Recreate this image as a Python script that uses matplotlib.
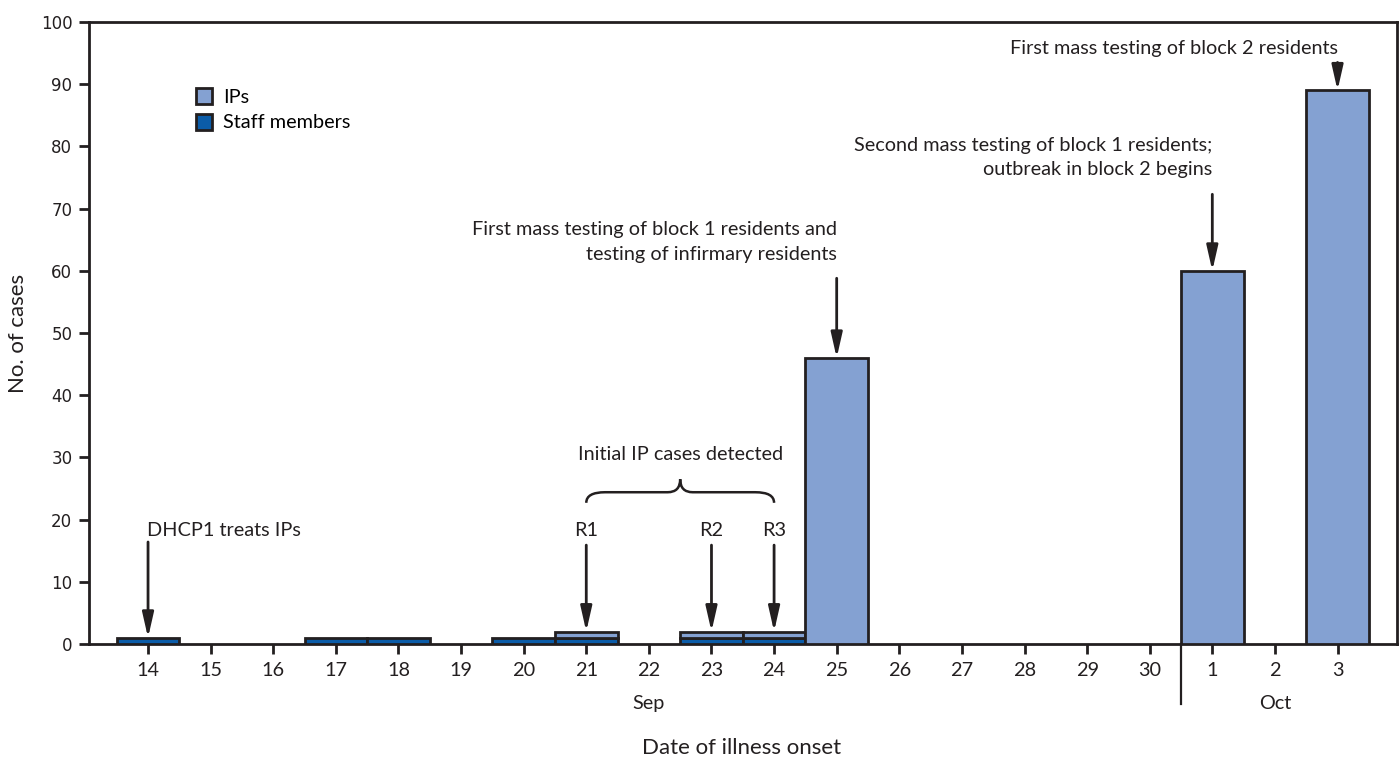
import matplotlib
matplotlib.use("Agg")
import matplotlib.pyplot as plt
import numpy as np
from matplotlib.path import Path
from matplotlib.patches import PathPatch, Patch

# ---------------- data ----------------
dates = ['14', '15', '16', '17', '18', '19', '20', '21', '22', '23', '24', '25',
         '26', '27', '28', '29', '30', '1', '2', '3']
staff = [1, 0, 0, 1, 1, 0, 1, 1, 0, 1, 1, 0, 0, 0, 0, 0, 0, 0, 0, 0]
ips = [0, 0, 0, 0, 0, 0, 0, 1, 0, 1, 1, 46, 0, 0, 0, 0, 0, 60, 0, 89]
yticks = [0, 10, 20, 30, 40, 50, 60, 70, 80, 90, 100]

# ---------------- style ----------------
INK = '#231f20'
C_IP = '#84a1d2'
C_STAFF = '#0b5ca8'
FONT = ['Lato', 'DejaVu Sans']
FS = 14.3
plt.rcParams['font.family'] = FONT

fig = plt.figure(figsize=(14, 7.59), dpi=100)
ax = fig.add_axes([89 / 1400, 115 / 759, 1308 / 1400, 622 / 759])

x = np.arange(len(dates))
staff_a = np.array(staff, dtype=float)
ips_a = np.array(ips, dtype=float)

m = staff_a > 0
ax.bar(x[m], staff_a[m], width=1.0, color=C_STAFF, edgecolor=INK, linewidth=2, zorder=3)
m = ips_a > 0
ax.bar(x[m], ips_a[m], bottom=staff_a[m], width=1.0, color=C_IP, edgecolor=INK,
       linewidth=2, zorder=3)

ax.set_xlim(-0.943, 19.95)
ax.set_ylim(0, 100)
ax.set_xticks(x)
ax.set_xticklabels(dates, fontsize=FS, color=INK)
ax.set_yticks(yticks)
ax.set_yticklabels([str(v) for v in yticks], fontsize=12, color=INK,
                   family=['DejaVu Sans'])
ax.tick_params(axis='x', length=7, width=2, color=INK, pad=6)
ax.tick_params(axis='y', length=7, width=2, color=INK, pad=5)
for s in ax.spines.values():
    s.set_linewidth(2)
    s.set_color(INK)

# month separators / labels
ax.plot([16.5, 16.5], [0, -9.64], color=INK, lw=1.6, clip_on=False, zorder=4)
ax.text(8, -9.5, 'Sep', ha='center', va='center', fontsize=FS, color=INK)
ax.text(18, -9.5, 'Oct', ha='center', va='center', fontsize=FS, color=INK)

fig.text(742 / 1400, 1 - 748 / 759, 'Date of illness onset', ha='center',
         va='center', fontsize=16, color=INK)
fig.text(18 / 1400, 1 - 333 / 759, 'No. of cases', ha='center', va='center',
         rotation=90, fontsize=16, color=INK)

# legend
handles = [Patch(facecolor=C_IP, edgecolor=INK, linewidth=2, label='IPs'),
           Patch(facecolor=C_STAFF, edgecolor=INK, linewidth=2, label='Staff members')]
ax.legend(handles=handles, loc='upper left', bbox_to_anchor=(0.0815, 0.894),
          frameon=False, fontsize=FS, handlelength=0.85, handleheight=0.85,
          handletextpad=0.55, labelspacing=0.4, borderpad=0, borderaxespad=0)

# annotations
ap = dict(arrowstyle='-|>,head_length=0.75,head_width=0.17', color=INK, lw=2,
          mutation_scale=20, shrinkA=0, shrinkB=0)
tot = staff_a + ips_a

def arrow(i, y0):
    ax.annotate('', xy=(i, tot[i]), xytext=(i, y0), arrowprops=ap, zorder=5)

arrow(0, 16.4)
ax.text(-0.02, 18.3, 'DHCP1 treats IPs', ha='left', va='center', fontsize=FS, color=INK)

for i, lab in [(7, 'R1'), (9, 'R2'), (10, 'R3')]:
    arrow(i, 15.9)
    ax.text(i, 18.3, lab, ha='center', va='center', fontsize=FS, color=INK)

# brace
yb, yh, yc = 22.7, 24.4, 26.5
verts = [(7, yb), (7, yh), (7.3, yh),
         (8.3, yh),
         (8.5, yh), (8.5, yc),
         (8.5, yh), (8.7, yh),
         (9.7, yh),
         (10, yh), (10, yb)]
codes = [Path.MOVETO, Path.CURVE3, Path.CURVE3,
         Path.LINETO,
         Path.CURVE3, Path.CURVE3,
         Path.CURVE3, Path.CURVE3,
         Path.LINETO,
         Path.CURVE3, Path.CURVE3]
ax.add_patch(PathPatch(Path(verts, codes), facecolor='none', edgecolor=INK, lw=1.8))
ax.text(8.5, 30.4, 'Initial IP cases detected', ha='center', va='center',
        fontsize=FS, color=INK)

arrow(11, 58.8)
ax.text(11, 66.6, 'First mass testing of block 1 residents and', ha='right',
        va='center', fontsize=FS, color=INK)
ax.text(11, 62.7, 'testing of infirmary residents', ha='right', va='center',
        fontsize=FS, color=INK)

arrow(17, 72.3)
ax.text(17, 80.2, 'Second mass testing of block 1 residents;', ha='right',
        va='center', fontsize=FS, color=INK)
ax.text(17, 76.3, 'outbreak in block 2 begins', ha='right', va='center',
        fontsize=FS, color=INK)

arrow(19, 93.5)
ax.text(19, 95.7, 'First mass testing of block 2 residents', ha='right',
        va='center', fontsize=FS, color=INK)

fig.savefig('out.png', dpi=100)
